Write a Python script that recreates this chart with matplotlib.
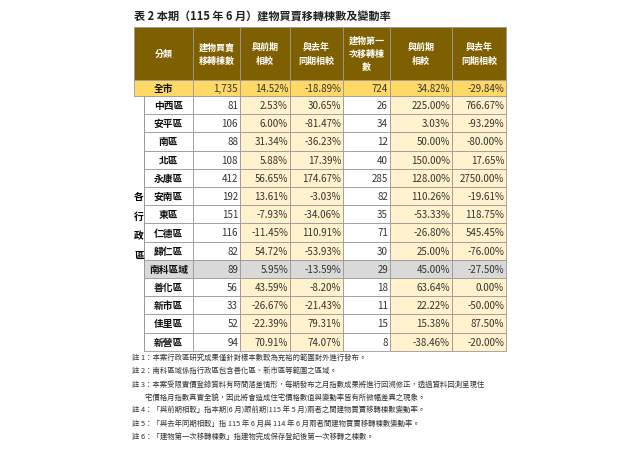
import matplotlib.pyplot as plt
import matplotlib.patches as patches

plt.rcParams['font.family'] = ['Noto Sans CJK TC', 'DejaVu Sans']

title = '表 2 本期（115 年 6 月）建物買賣移轉棟數及變動率'
headers = ['分類', '建物買賣\n移轉棟數', '與前期\n相較', '與去年\n同期相較',
           '建物第一\n次移轉棟\n數', '與前期\n相較', '與去年\n同期相較']
total = ['全市', '1,735', '14.52%', '-18.89%', '724', '34.82%', '-29.84%']
districts = ['中西區', '安平區', '南區', '北區', '永康區', '安南區', '東區', '仁德區',
             '歸仁區', '南科區域', '善化區', '新市區', '佳里區', '新營區']
sales = ['81', '106', '88', '108', '412', '192', '151', '116', '82', '89', '56', '33', '52', '94']
sales_prev = ['2.53%', '6.00%', '31.34%', '5.88%', '56.65%', '13.61%', '-7.93%', '-11.45%',
              '54.72%', '5.95%', '43.59%', '-26.67%', '-22.39%', '70.91%']
sales_yoy = ['30.65%', '-81.47%', '-36.23%', '17.39%', '174.67%', '-3.03%', '-34.06%', '110.91%',
             '-53.93%', '-13.59%', '-8.20%', '-21.43%', '79.31%', '74.07%']
first = ['26', '34', '12', '40', '285', '82', '35', '71', '30', '29', '18', '11', '15', '8']
first_prev = ['225.00%', '3.03%', '50.00%', '150.00%', '128.00%', '110.26%', '-53.33%', '-26.80%',
              '25.00%', '45.00%', '63.64%', '22.22%', '15.38%', '-38.46%']
first_yoy = ['766.67%', '-93.29%', '-80.00%', '17.65%', '2750.00%', '-19.61%', '118.75%', '545.45%',
             '-76.00%', '-27.50%', '0.00%', '-50.00%', '87.50%', '-20.00%']
notes = [
    '註 1：本案行政區研究成果僅針對樣本數較為充裕的範圍對外進行發布。',
    '註 2：南科區域係指行政區包含善化區、新市區等範圍之區域。',
    '註 3：本案受限實價登錄資料有時間落差情形，每期發布之月指數成果將進行回溯修正，透過資料回測呈現住',
    '        宅價格月指數真實全貌，因此將會造成住宅價格數值與變動率皆有所微幅差異之現象。',
    '註 4：「與前期相較」指本期(6 月)跟前期(115 年 5 月)兩者之間建物買賣移轉棟數變動率。',
    '註 5：「與去年同期相較」指 115 年 6 月與 114 年 6 月兩者間建物買賣移轉棟數變動率。',
    '註 6：「建物第一次移轉棟數」指建物完成保存登記後第一次移轉之棟數。',
]

# column edges (pixels)
xs = [134, 144, 193, 240, 290, 343, 390, 452, 506]
y_head, y_total, y_rows = 28, 81, 97
row_h = 18.2
brown = '#7f6000'
light = '#fff2cc'
gold = '#ffd966'
grid = '#999999'

fig = plt.figure(figsize=(6.4, 4.6), dpi=100)
ax = fig.add_axes([0, 0, 1, 1])
ax.set_xlim(0, 640)
ax.set_ylim(460, 0)
ax.axis('off')


def cell(x0, x1, y0, y1, fc, txt='', ha='right', color='#333333', bold=False, fs=7):
    ax.add_patch(patches.Rectangle((x0, y0), x1 - x0, y1 - y0, facecolor=fc,
                                   edgecolor=grid, linewidth=0.6))
    if txt:
        tx = x1 - 2 if ha == 'right' else (x0 + x1) / 2
        ax.text(tx, (y0 + y1) / 2, txt, ha=ha, va='center', fontsize=fs, color=color,
                fontweight='bold' if bold else 'normal', linespacing=1.6)


ax.text(134, 17, title, fontsize=8, fontweight='bold', va='center', color='#222222')

# header
cell(xs[0], xs[2], y_head, y_total, brown, headers[0], 'center', 'white', True, 6.5)
for j in range(1, 7):
    cell(xs[j + 1], xs[j + 2], y_head, y_total, brown, headers[j], 'center', 'white', True, 6.5)

# total row
cell(xs[0], xs[2], y_total, y_rows, gold, total[0], 'center', '#111111', True)
for j in range(1, 7):
    cell(xs[j + 1], xs[j + 2], y_total, y_rows, gold, total[j], 'right', '#333333')

# group column
y_end = y_rows + row_h * len(districts)
ax.plot([xs[1], xs[1]], [y_rows, y_end], color=grid, lw=0.6)
for k, ch in enumerate('各行政區'):
    ax.text(139, 197 + k * 19.5, ch, ha='center', va='center', fontsize=7, fontweight='bold')

cols = [sales, sales_prev, sales_yoy, first, first_prev, first_yoy]
for i, name in enumerate(districts):
    y0 = y_rows + i * row_h
    y1 = y0 + row_h
    grey = name == '南科區域'
    cell(xs[1], xs[2], y0, y1, '#d9d9d9' if grey else 'white', name, 'center', '#111111', True)
    for j, col in enumerate(cols):
        fc = '#d9d9d9' if grey else (light if j in (1, 2, 4, 5) else 'white')
        cell(xs[j + 2], xs[j + 3], y0, y1, fc, col[i])

for k, note in enumerate(notes):
    ax.text(132, 358 + k * 13.2, note, fontsize=5.3, va='center', color='#333333')

fig.savefig('out.png', dpi=100, facecolor='white')
